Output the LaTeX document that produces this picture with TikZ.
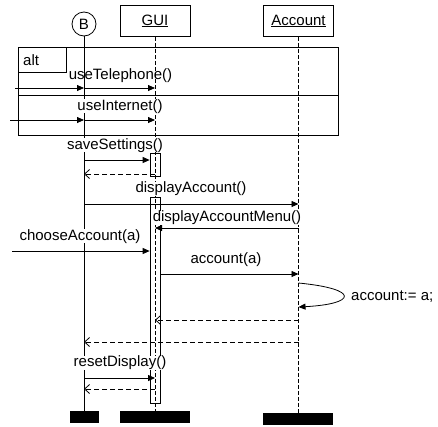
\documentclass[tikz,border=0pt]{standalone}
\usepackage{fontspec}
\setmainfont{Liberation Sans}
\usetikzlibrary{arrows.meta}
\begin{document}
\begin{tikzpicture}[x=1pt,y=-1pt,
  txt/.style={font=\fontsize{15}{17}\selectfont},
  lbl/.style={txt, inner sep=0pt, anchor=base},
  lblw/.style={lbl, fill=white},
  msg/.style={line width=0.8pt, -{Triangle[length=7pt,width=6pt]}},
  ret/.style={line width=0.8pt, dash pattern=on 5pt off 3pt, -{Straight Barb[length=5pt,width=9pt]}},
  lifeline/.style={line width=1pt, dash pattern=on 4pt off 2pt},
  objbox/.style={draw, line width=0.8pt, minimum width=70pt, minimum height=31pt, inner sep=0pt, anchor=north},
  endbar/.style={fill=black, inner sep=0pt, minimum height=12pt},
  act/.style={draw, line width=0.7pt, minimum width=10pt, inner sep=0pt, anchor=north}
]
\fill[white] (0,0) rectangle (438,426);
\useasboundingbox (0,0) rectangle (438,426);
% objects
\node[objbox] (gui) at (155,5) {};
\node[objbox] (acc) at (298.5,5) {};
\node[lbl] (guit) at (155,25) {\underline{GUI}};
\node[lbl] (acct) at (298.5,25) {\underline{Account}};
\node[draw, circle, minimum size=24pt, inner sep=0pt, line width=0.8pt] (b) at (84,24) {};
\node[lbl] (bt) at (84,29.5) {B};
% end bars
\node[endbar, minimum width=29pt] (bbar) at (84.5,417) {};
\node[endbar, minimum width=70pt] (gbar) at (155,417) {};
\node[endbar, minimum width=70pt] (abar) at (298,419) {};
% lifelines
\draw[line width=0.8pt] (b.south) -- (b.south |- bbar.north);
\draw[lifeline] (gui.south) -- (gui.south |- gbar.north);
\draw[lifeline] (acc.south) -- (acc.south |- abar.north);
% activations
\node[act, minimum height=23pt] (act1) at (155,153) {};
\node[act, minimum height=206pt] (act2) at (155,197) {};
% alt frame
\node[draw, line width=0.8pt, anchor=north west, minimum width=320pt, minimum height=88pt, inner sep=0pt] (frame) at (18,47) {};
\draw[line width=0.8pt] (frame.west |- 0,95) -- (frame.east |- 0,95);
\node[draw, line width=0.8pt, anchor=north west, minimum width=48pt, minimum height=25pt, inner sep=0pt] (altbox) at (18,47) {};
\node[lbl, anchor=base west] (altt) at (23,65) {alt};
% messages
\coordinate (s1) at (15,88);
\coordinate (s2) at (10,120);
\coordinate (s3) at (12,251);
\draw[msg] (s1) -- (s1 -| b.south);
\draw[msg] (b.south |- s1) -- (gui.south |- s1);
\draw[msg] (s2) -- (s2 -| b.south);
\draw[msg] (b.south |- s2) -- (gui.south |- s2);
\draw[msg] (b.south |- 0,160) -- (act1.west |- 0,160);
\draw[ret] (gui.south |- 0,174) -- (b.south |- 0,174);
\draw[msg] (b.south |- 0,204) -- (acc.south |- 0,204);
\draw[msg] (acc.south |- 0,228) -- (gui.south |- 0,228);
\draw[msg] (s3) -- (s3 -| act2.west);
\draw[msg] (act2.east |- 0,274) -- (acc.south |- 0,274);
\draw[msg] (acc.south |- 0,283) .. controls +(62,6) and +(58,-3) .. (acc.south |- 0,307);
\draw[ret] (acc.south |- 0,320) -- (gui.south |- 0,320);
\draw[ret] (acc.south |- 0,342) -- (b.south |- 0,342);
\draw[msg] (b.south |- 0,378) -- (gui.south |- 0,378);
\draw[ret] (gui.south |- 0,389) -- (b.south |- 0,389);
% labels
\node[lbl] (l1) at (120.5,79) {useTelephone()};
\node[lblw] (l2) at (120,110) {useInternet()};
\node[lblw] (l3) at (115,149) {saveSettings()};
\node[lblw] (l4) at (191,192.5) {displayAccount()};
\node[lblw] (l5) at (227,221.5) {displayAccountMenu()};
\node[lblw] (l6) at (80,240) {chooseAccount(a)};
\node[lblw] (l7) at (226,263) {account(a)};
\node[lbl, anchor=base west] (l8) at (351,300) {account:= a;};
\node[lblw] (l9) at (120,366.5) {resetDisplay()};
\end{tikzpicture}
\end{document}
